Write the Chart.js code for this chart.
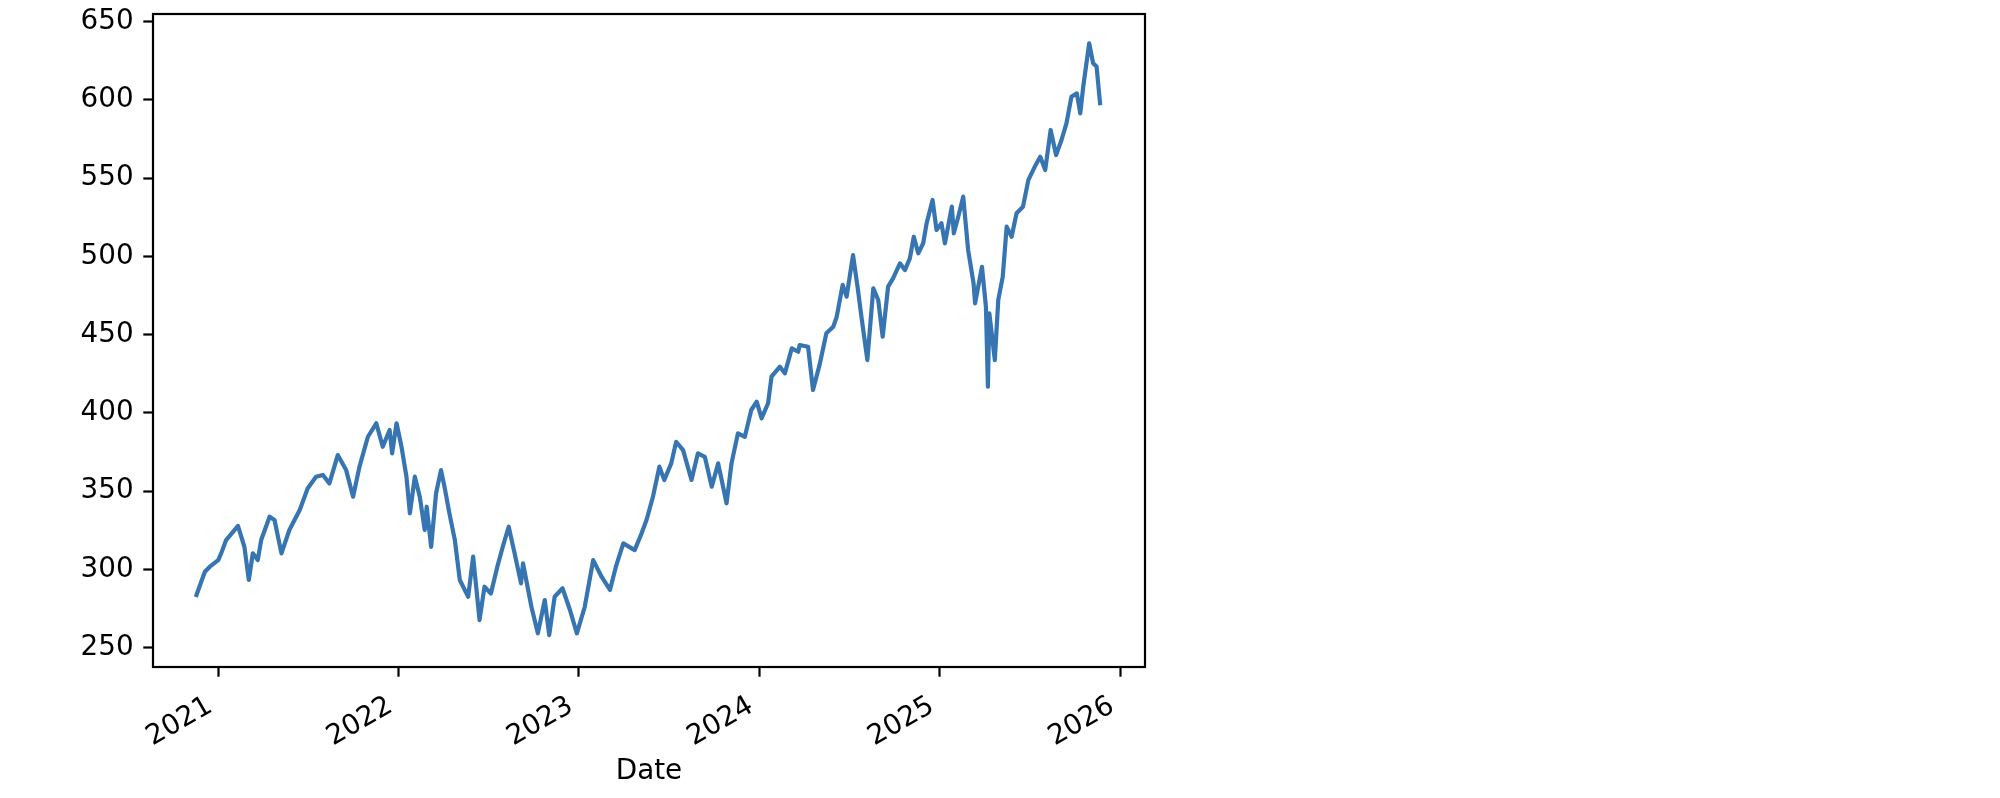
<!DOCTYPE html>
<html><head><meta charset="utf-8">
<script src="https://cdn.jsdelivr.net/npm/chart.js@4.4.1/dist/chart.umd.min.js"></script>
<style>html,body{margin:0;padding:0;background:#fff;}#wrap{position:relative;width:2000px;height:798px;}</style>
</head><body><div id="wrap"><canvas id="c"></canvas></div>
<script>
const dates = [
 '2020-11-18','2020-12-05','2020-12-15','2021-01-01','2021-01-07','2021-01-17','2021-02-10','2021-02-23','2021-03-04','2021-03-12',
 '2021-03-22','2021-03-29','2021-04-15','2021-04-25','2021-05-09','2021-05-25','2021-06-15','2021-07-01','2021-07-18','2021-08-01',
 '2021-08-14','2021-08-31','2021-09-17','2021-10-01','2021-10-14','2021-10-31','2021-11-17','2021-11-30','2021-12-14','2021-12-19',
 '2021-12-28','2022-01-07','2022-01-17','2022-01-24','2022-02-03','2022-02-13','2022-02-23','2022-02-27','2022-03-08','2022-03-18',
 '2022-03-28','2022-04-04','2022-04-14','2022-04-25','2022-05-05','2022-05-22','2022-06-01','2022-06-14','2022-06-24','2022-07-07',
 '2022-07-20','2022-07-31','2022-08-12','2022-08-24','2022-09-06','2022-09-10','2022-09-27','2022-10-10','2022-10-24','2022-11-02',
 '2022-11-13','2022-11-29','2022-12-14','2022-12-28','2023-01-13','2023-01-30','2023-02-16','2023-03-05','2023-03-17','2023-04-01',
 '2023-04-24','2023-05-08','2023-05-18','2023-05-31','2023-06-13','2023-06-23','2023-07-07','2023-07-17','2023-07-31','2023-08-17',
 '2023-08-30','2023-09-13','2023-09-27','2023-10-10','2023-10-27','2023-11-06','2023-11-19','2023-12-03','2023-12-16','2023-12-27',
 '2024-01-06','2024-01-19','2024-01-26','2024-02-12','2024-02-22','2024-03-07','2024-03-20','2024-03-23','2024-04-09','2024-04-19',
 '2024-05-03','2024-05-16','2024-05-30','2024-06-06','2024-06-18','2024-06-26','2024-07-09','2024-07-19','2024-07-26','2024-08-07',
 '2024-08-19','2024-08-29','2024-09-07','2024-09-18','2024-09-28','2024-10-12','2024-10-22','2024-11-01','2024-11-09','2024-11-18',
 '2024-11-28','2024-12-05','2024-12-17','2024-12-25','2025-01-04','2025-01-11','2025-01-25','2025-01-29','2025-02-07','2025-02-17',
 '2025-02-27','2025-03-10','2025-03-13','2025-03-27','2025-04-04','2025-04-08','2025-04-11','2025-04-22','2025-04-29','2025-05-08',
 '2025-05-16','2025-05-26','2025-06-05','2025-06-18','2025-06-29','2025-07-12','2025-07-23','2025-08-02','2025-08-13','2025-08-24',
 '2025-09-04','2025-09-14','2025-09-24','2025-10-05','2025-10-12','2025-10-18','2025-10-30','2025-11-07','2025-11-14','2025-11-21'
];
const closeValues = [
 283.7,298.6,301.8,306.0,310.3,318.8,327.8,314.5,293.3,310.3,
 306.0,318.8,333.7,331.6,310.3,325.2,338.0,351.8,359.3,360.4,
 355.0,373.1,363.5,346.5,365.7,384.8,393.4,378.4,389.1,374.2,
 393.4,378.4,359.3,335.9,359.3,346.5,325.2,340.1,314.5,348.7,
 363.5,352.9,335.9,318.8,293.3,282.6,308.2,267.7,289.0,284.7,
 301.8,314.5,327.3,310.3,291.1,303.9,276.2,259.2,280.5,258.1,
 282.6,288.0,274.1,259.2,276.2,306.0,295.4,286.9,301.8,316.7,
 312.4,323.1,331.6,346.5,365.7,357.2,367.8,381.6,376.3,357.2,
 374.2,372.0,352.9,367.8,342.3,367.8,387.0,384.8,401.9,407.2,
 396.6,406.2,423.2,429.6,425.3,441.3,439.1,443.4,442.3,414.7,
 431.7,450.9,455.1,461.5,481.8,474.3,500.9,478.6,461.5,433.8,
 479.6,472.2,448.7,480.7,486.0,495.6,491.3,498.8,512.6,502.0,
 508.4,521.2,536.1,516.9,521.2,508.4,531.8,514.8,525.4,538.2,
 504.1,482.8,470.0,493.4,467.9,416.8,463.6,433.8,472.2,487.0,
 519.0,512.6,527.6,531.8,548.9,557.4,563.7,555.2,580.8,564.8,
 574.4,585.0,602.0,604.2,591.4,608.5,636.2,623.4,621.3,597.9
];
const yTickValues = [250, 300, 350, 400, 450, 500, 550, 600, 650];
const xTickYears = [2021, 2022, 2023, 2024, 2025, 2026];
const xAxisTitle = 'Date';
const xRange = ['2020-08-22', '2026-02-20'];
const yRange = [237.7, 654.9];

const FONT = {family: "'DejaVu Sans', sans-serif", size: 27.8};
const frame = {
  id: 'frame',
  afterDatasetsDraw(chart) {
    const a = chart.chartArea, ctx = chart.ctx;
    ctx.save();
    ctx.strokeStyle = '#000';
    ctx.lineWidth = 2.2;
    ctx.strokeRect(a.left, a.top, a.right - a.left, a.bottom - a.top);
    ctx.restore();
  }
};

new Chart(document.getElementById('c'), {
  type: 'line',
  data: {
    datasets: [{
      data: dates.map((d, i) => ({x: Date.parse(d), y: closeValues[i]})),
      borderColor: '#3675b1',
      borderWidth: 4.2,
      pointRadius: 0,
      tension: 0,
      borderJoinStyle: 'round',
      borderCapStyle: 'square',
      fill: false
    }]
  },
  options: {
    responsive: true,
    maintainAspectRatio: false,
    animation: false,
    layout: {padding: {top: 14, right: 855, left: 0, bottom: 0}},
    plugins: {legend: {display: false}, tooltip: {enabled: false}},
    scales: {
      x: {
        type: 'linear',
        min: Date.parse(xRange[0]),
        max: Date.parse(xRange[1]),
        afterBuildTicks: s => { s.ticks = xTickYears.map(y => ({value: Date.UTC(y, 0, 1)})); },
        afterFit: s => { s.height = 131; s.paddingLeft = 0; s.paddingRight = 0; },
        border: {display: false},
        grid: {display: true, drawOnChartArea: false, drawTicks: true, tickLength: 9.7, tickWidth: 2.2, tickColor: '#000'},
        ticks: {
          autoSkip: false, minRotation: 30, maxRotation: 30, padding: 13, labelOffset: -8,
          color: '#000', font: FONT,
          callback: v => String(new Date(v).getUTCFullYear())
        },
        title: {display: true, text: xAxisTitle, color: '#000', font: FONT, padding: {top: 0, bottom: 10}}
      },
      y: {
        min: yRange[0],
        max: yRange[1],
        afterBuildTicks: s => { s.ticks = yTickValues.map(v => ({value: v})); },
        afterFit: s => { s.width = 153; s.paddingTop = 0; s.paddingBottom = 0; },
        border: {display: false},
        grid: {display: true, drawOnChartArea: false, drawTicks: true, tickLength: 9.7, tickWidth: 2.2, tickColor: '#000'},
        ticks: {padding: 9.7, color: '#000', font: FONT}
      }
    }
  },
  plugins: [frame]
});
</script>
</body></html>
